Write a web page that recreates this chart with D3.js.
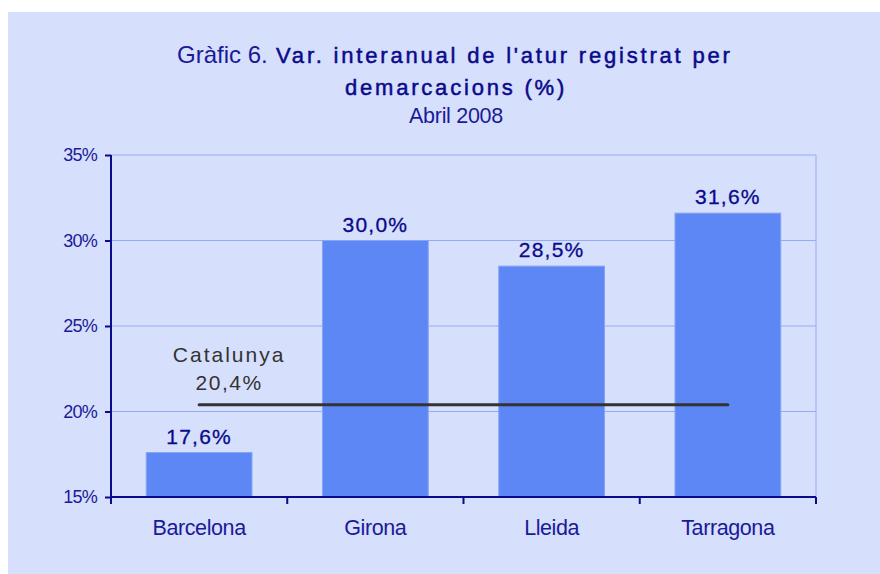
<!DOCTYPE html>
<html>
<head>
<meta charset="utf-8">
<script src="https://cdn.jsdelivr.net/npm/d3@7"></script>
<style>
  body { margin: 0; background: #fff; }
  text { font-family: "Liberation Sans", Arial, sans-serif; }
</style>
</head>
<body>
<div id="chart"></div>
<script>
// data
var categories = ["Barcelona", "Girona", "Lleida", "Tarragona"];
var values = [17.6, 30.0, 28.5, 31.6];
var catalunya = 20.4;
var yTicks = [15, 20, 25, 30, 35];

var W = 880, H = 574;
var margin = { top: 155, right: 64, bottom: 77, left: 111 },
    width = W - margin.left - margin.right,
    height = H - margin.top - margin.bottom;

var navy = "#0a0a8c";
var fmt = function(v) { return v.toFixed(1).replace(".", ",") + "%"; };

var svg = d3.select("#chart").append("svg")
    .attr("width", W)
    .attr("height", H);

// background panel
svg.append("rect")
    .attr("x", 8).attr("y", 12)
    .attr("width", W - 8).attr("height", H - 12)
    .attr("fill", "#d6dffb");

// title
svg.append("text")
    .attr("x", 177).attr("y", 63)
    .attr("fill", "#1a1a99")
    .style("font-size", "24px")
    .style("letter-spacing", "0px")
    .text("Gràfic 6.");
svg.append("text")
    .attr("x", 276).attr("y", 63)
    .attr("fill", navy)
    .attr("stroke", navy).attr("stroke-width", 0.5)
    .style("font-size", "22px")
    .style("letter-spacing", "2.8px")
    .text("Var. interanual de l'atur registrat per");

svg.append("text")
    .attr("x", 456).attr("y", 95)
    .attr("text-anchor", "middle")
    .attr("fill", navy)
    .attr("stroke", navy).attr("stroke-width", 0.5)
    .style("font-size", "22px")
    .style("letter-spacing", "2.8px")
    .text("demarcacions (%)");

svg.append("text")
    .attr("x", 456).attr("y", 123)
    .attr("text-anchor", "middle")
    .attr("fill", "#1a1a99")
    .style("font-size", "21.5px")
    .style("letter-spacing", "-0.3px")
    .text("Abril 2008");

var g = svg.append("g")
    .attr("transform", "translate(" + margin.left + "," + margin.top + ")");

var x = d3.scaleBand()
    .domain(categories)
    .range([0, width])
    .paddingInner(0.4)
    .paddingOuter(0.2);

var y = d3.scaleLinear()
    .domain([15, 35])
    .range([height, 0]);

// gridlines
g.selectAll(".grid")
    .data(yTicks.slice(1))
    .enter().append("line")
    .attr("class", "grid")
    .attr("x1", 0).attr("x2", width)
    .attr("y1", function(d) { return y(d); })
    .attr("y2", function(d) { return y(d); })
    .attr("stroke", "#94adf2")
    .attr("stroke-width", 1);

// right border of plot area
g.append("line")
    .attr("x1", width).attr("x2", width)
    .attr("y1", 0).attr("y2", height)
    .attr("stroke", "#94adf2");

// bars
g.selectAll(".bar")
    .data(values)
    .enter().append("rect")
    .attr("class", "bar")
    .attr("x", function(d, i) { return x(categories[i]); })
    .attr("y", function(d) { return y(d); })
    .attr("width", x.bandwidth())
    .attr("height", function(d) { return height - y(d); })
    .attr("fill", "#5d87f5")
    .attr("stroke", "#86a4f3")
    .attr("stroke-width", 1);

// value labels
g.selectAll(".vlabel")
    .data(values)
    .enter().append("text")
    .attr("class", "vlabel")
    .attr("x", function(d, i) { return x(categories[i]) + x.bandwidth() / 2; })
    .attr("y", function(d) { return y(d) - 9; })
    .attr("text-anchor", "middle")
    .attr("fill", navy)
    .attr("stroke", navy).attr("stroke-width", 0.3)
    .style("font-size", "21px")
    .style("letter-spacing", "1.2px")
    .text(fmt);

// Catalunya line
var cx1 = x(categories[0]) + x.bandwidth() / 2,
    cx2 = x(categories[categories.length - 1]) + x.bandwidth() / 2;
g.append("line")
    .attr("x1", cx1).attr("x2", cx2)
    .attr("y1", y(catalunya)).attr("y2", y(catalunya))
    .attr("stroke", "#333333")
    .attr("stroke-width", 3)
    .attr("stroke-linecap", "round");

g.append("text")
    .attr("x", cx1 + 30).attr("y", y(catalunya) - 43)
    .attr("text-anchor", "middle")
    .attr("fill", "#333333")
    .style("font-size", "21px")
    .style("letter-spacing", "2px")
    .text("Catalunya");
g.append("text")
    .attr("x", cx1 + 30).attr("y", y(catalunya) - 15)
    .attr("text-anchor", "middle")
    .attr("fill", "#333333")
    .style("font-size", "21px")
    .style("letter-spacing", "1.5px")
    .text(fmt(catalunya));

// y axis
var yAxis = g.append("g")
    .call(d3.axisLeft(y).tickValues(yTicks).tickSize(6).tickPadding(8)
        .tickFormat(function(d) { return d + "%"; }));
yAxis.select(".domain").attr("stroke", navy).attr("stroke-width", 2)
    .attr("d", "M0," + height + "V0");
yAxis.selectAll(".tick line").attr("stroke", navy).attr("stroke-width", 2);
yAxis.selectAll(".tick text")
    .attr("fill", "#1a1a99")
    .style("font-size", "18px")
    .style("letter-spacing", "-0.8px")
    .style("font-family", "Liberation Sans, Arial, sans-serif");

// x axis with ticks at band boundaries
var xAxis = g.append("g")
    .attr("transform", "translate(0," + height + ")");
xAxis.append("line")
    .attr("x1", 0).attr("x2", width)
    .attr("stroke", navy).attr("stroke-width", 2);
var bounds = d3.range(categories.length + 1).map(function(i) { return i * width / categories.length; });
xAxis.selectAll(".xt")
    .data(bounds)
    .enter().append("line")
    .attr("class", "xt")
    .attr("x1", function(d) { return d; })
    .attr("x2", function(d) { return d; })
    .attr("y1", 0).attr("y2", 7)
    .attr("stroke", navy).attr("stroke-width", 2);
xAxis.selectAll(".xl")
    .data(categories)
    .enter().append("text")
    .attr("class", "xl")
    .attr("x", function(d) { return x(d) + x.bandwidth() / 2; })
    .attr("y", 38)
    .attr("text-anchor", "middle")
    .attr("fill", "#1a1a99")
    .style("font-size", "21.5px")
    .style("letter-spacing", "-0.4px")
    .text(function(d) { return d; });
</script>
</body>
</html>
